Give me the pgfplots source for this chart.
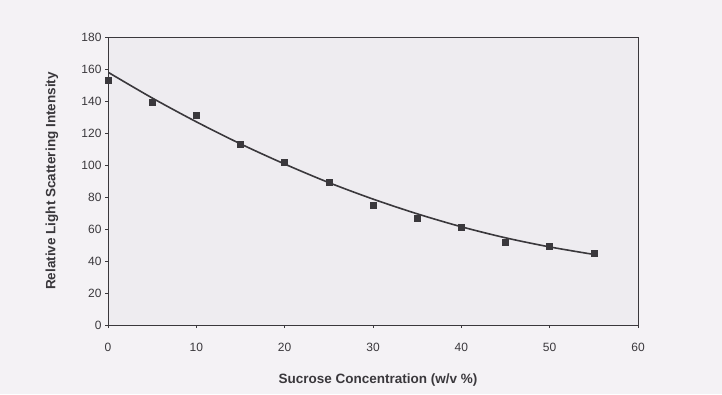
\documentclass[border=0pt]{standalone}
\usepackage{pgfplots}
\pgfplotsset{compat=1.18}
\usepackage{fontspec}
\setmainfont{Liberation Sans}
\definecolor{bgout}{HTML}{F4F2F5}
\definecolor{bgin}{HTML}{EEECF0}
\definecolor{ink}{HTML}{3A383C}
\begin{document}
\begin{tikzpicture}[x=1pt,y=1pt]
\fill[bgout] (0,0) rectangle (722,394);
\begin{axis}[
  at={(108pt,69pt)}, anchor=south west,
  scale only axis, width=530pt, height=288pt,
  xmin=0, xmax=60, ymin=0, ymax=180,
  xtick={0,10,...,60}, ytick={0,20,...,180},
  axis background/.style={fill=bgin},
  axis line style={ink, line width=0.9pt},
  tick style={ink, line width=0.7pt},
  tick align=outside, major tick length=3pt,
  xtick pos=bottom, ytick pos=left,
  ticklabel style={font=\fontsize{12}{14}\selectfont, text=ink},
  xticklabel style={yshift=-12pt},
  /pgf/number format/assume math mode=true,
  xlabel={\bfseries Sucrose Concentration (w/v \%)},
  ylabel={\bfseries Relative Light Scattering Intensity},
  label style={font=\fontsize{13.5}{15}\selectfont, text=ink},
  xlabel style={at={(axis description cs:0.5,0)}, anchor=center, yshift=-55pt, xshift=5pt},
  ylabel style={at={(axis description cs:0,0.5)}, anchor=center, yshift=56pt},
]
\addplot[only marks, mark=square*, mark size=3pt, ink] coordinates {
(0,153) (5,139) (10,131) (15,113) (20,102) (25,89) (30,75) (35,67) (40,61) (45,52) (50,49) (55,45)
};
\addplot[ink, line width=1.6pt, smooth] coordinates {
(0,158) (5,141.9) (10,127) (15,113.2) (20,100.6) (25,89) (30,78.7) (35,69.5) (40,61.4) (45,54.5) (50,48.8) (55,44.1)
};
\end{axis}
\end{tikzpicture}
\end{document}
